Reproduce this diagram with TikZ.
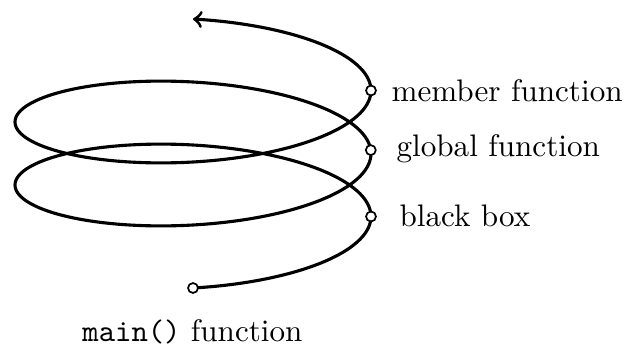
\documentclass[tikz,border=0pt]{standalone}
\begin{document}
\begin{tikzpicture}[x=0.3212pt,y=-0.3212pt,
  spiral/.style={line width=1pt},
  dotnode/.style={circle,draw,fill=white,line width=0.55pt,inner sep=0pt,minimum size=3.2pt},
  lab/.style={inner sep=0pt,anchor=base west,font=\normalsize}]
\useasboundingbox (0,0) rectangle (627,347);
\draw[spiral,->] plot[domain=-90:810,samples=361,smooth] ({193+178*cos(\x)},{216.5-55.75*sin(\x)-0.175*\x});
\node[dotnode] (start) at (193,288) {};
\node[dotnode] (bb) at (371,216.5) {};
\node[dotnode] (gf) at (370.8,150.1) {};
\node[dotnode] (mf) at (371,90.5) {};
\node[lab] (mfl) at (391,101.7) {member function};
\node[lab] (gfl) at (396,156.7) {global function};
\node[lab] (bbl) at (399,226.7) {black box};
\node[lab,anchor=base] (mainl) at (192.5,341.5) {\texttt{main()} function};
\end{tikzpicture}
\end{document}
